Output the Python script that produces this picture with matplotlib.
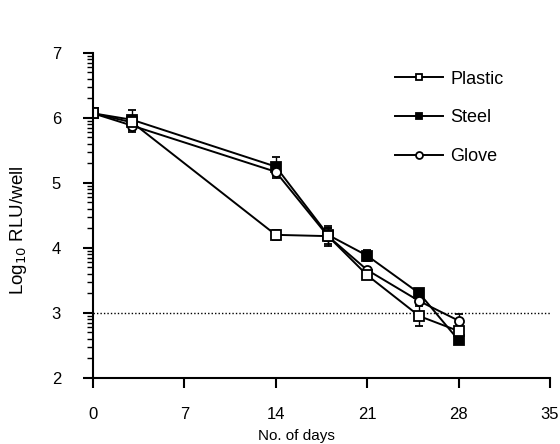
import matplotlib.pyplot as plt
import numpy as np

plt.rcParams['font.family'] = ['Liberation Sans', 'DejaVu Sans']

# Data
days = [0, 3, 14, 18, 21, 25, 28]
plastic = [6.07, 5.93, 4.20, 4.18, 3.58, 2.95, 2.72]
plastic_err = [0.06, 0.10, 0.08, 0.12, 0.05, 0.15, 0.05]
steel = [6.07, 5.97, 5.25, 4.20, 3.88, 3.30, 2.58]
steel_err = [0.05, 0.15, 0.15, 0.10, 0.08, 0.05, 0.04]
glove = [6.07, 5.88, 5.17, 4.18, 3.66, 3.18, 2.88]
glove_err = [0.05, 0.10, 0.10, 0.15, 0.05, 0.05, 0.10]
limit = 3.0

fig = plt.figure(figsize=(5.6, 4.44), dpi=100)
ax = fig.add_axes([0.166, 0.149, 0.816, 0.732])

common = dict(color='black', lw=1.4, ms=6.5, mew=1.3, capsize=3, elinewidth=1, capthick=1)
ax.errorbar(days, steel, yerr=steel_err, marker='s', mfc='black', mec='black', label='Steel', **common)
ax.errorbar(days, glove, yerr=glove_err, marker='o', mfc='white', mec='black', label='Glove', **common)
ax.errorbar(days, plastic, yerr=plastic_err, marker='s', mfc='white', mec='black', label='Plastic', **common)

ax.axhline(limit, color='black', ls=(0, (1, 1.5)), lw=1)

ax.set_xlim(0, 35)
ax.set_ylim(2, 7)
ax.set_xticks(np.arange(0, 36, 7))
ax.set_yticks(np.arange(2, 8, 1))
minor = [d + np.log10(k) for d in range(2, 7) for k in range(2, 10)]
ax.set_yticks(minor, minor=True)

for s in ['top', 'right']:
    ax.spines[s].set_visible(False)
for s in ['left', 'bottom']:
    ax.spines[s].set_linewidth(1.5)

ax.tick_params(axis='x', which='major', direction='out', length=7, width=1.5, labelsize=12, pad=14)
ax.tick_params(axis='y', which='major', direction='out', length=7, width=1.5, labelsize=12, pad=16)
ax.tick_params(axis='y', which='minor', direction='out', length=4, width=1)

ax.set_xlabel('No. of days', fontsize=11)
ax.xaxis.set_label_coords(0.446, -0.157)
ax.set_ylabel('Log$_{10}$ RLU/well', fontsize=13.5)
ax.yaxis.set_label_coords(-0.14, 0.455)

handles, labels = ax.get_legend_handles_labels()
order = [2, 0, 1]
leg = ax.legend([handles[i][0] for i in order], [labels[i] for i in order],
                loc='upper left', bbox_to_anchor=(0.661, 0.945), frameon=False,
                borderpad=0, borderaxespad=0,
                fontsize=13, handlelength=2.67, labelspacing=1.2, handletextpad=0.4)
for h in leg.legend_handles:
    h.set_markersize(5)

fig.savefig('out.png', dpi=100)
